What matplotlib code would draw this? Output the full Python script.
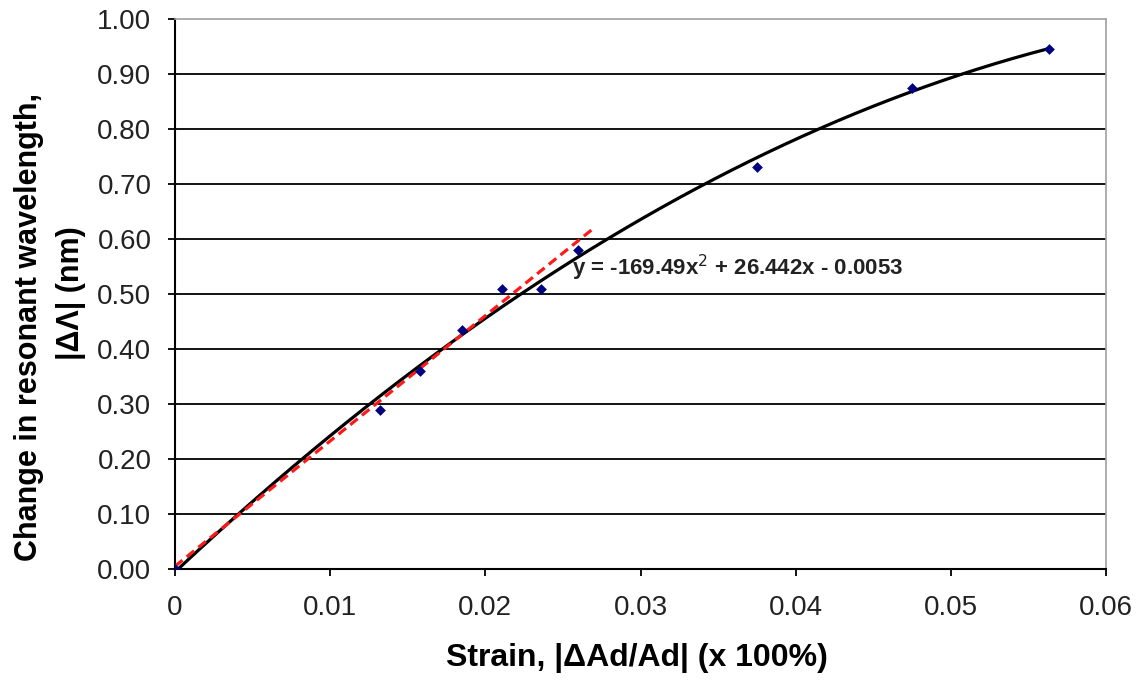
import numpy as np
import matplotlib.pyplot as plt

# measured points
strain = [0.0, 0.0132, 0.0158, 0.0185, 0.0211, 0.0236, 0.0260, 0.0375, 0.0475, 0.0563]
dlam = [0.0, 0.29, 0.36, 0.435, 0.509, 0.509, 0.58, 0.731, 0.875, 0.945]

# quadratic trendline from the chart label
fit_coef = [-169.49, 26.442, -0.0053]
fit_range = [0.0, 0.0563]

# red dashed linear line (end points)
lin_x = [0.0, 0.027]
lin_y = [0.005, 0.62]

xticks = [0, 0.01, 0.02, 0.03, 0.04, 0.05, 0.06]
xticklabels = ['0', '0.01', '0.02', '0.03', '0.04', '0.05', '0.06']
yticks = [0.0, 0.1, 0.2, 0.3, 0.4, 0.5, 0.6, 0.7, 0.8, 0.9, 1.0]
yticklabels = ['%.2f' % v for v in yticks]

plt.rcParams['font.family'] = ['Liberation Sans', 'DejaVu Sans']

fig = plt.figure(figsize=(11.38, 6.81), dpi=100)
ax = fig.add_axes([175/1138, 1 - 569/681, 931/1138, 550/681])

xs = np.linspace(fit_range[0], fit_range[1], 200)
ax.plot(xs, np.polyval(fit_coef, xs), color='black', lw=2.3, zorder=3)
ax.plot(lin_x, lin_y, color='#ff1a1a', lw=2.3, ls=(0, (3, 1.7)), zorder=4)
ax.scatter(strain, dlam, marker='D', s=30, color='#000080', zorder=5, linewidths=0)

ax.set_xlim(0, 0.06)
ax.set_ylim(0, 1.0)
ax.set_xticks(xticks)
ax.set_xticklabels(xticklabels)
ax.set_yticks(yticks)
ax.set_yticklabels(yticklabels)

for v in yticks[1:-1]:
    ax.axhline(v, color='black', lw=1.3, zorder=1)

for side in ['top', 'right']:
    ax.spines[side].set_color('#a0a0a0')
    ax.spines[side].set_linewidth(1.2)
for side in ['left', 'bottom']:
    ax.spines[side].set_color('black')
    ax.spines[side].set_linewidth(1.5)

ax.tick_params(direction='out', length=5, width=1.3, colors='black',
               labelsize=20, labelcolor='#222222')
ax.tick_params(axis='y', pad=12)
ax.tick_params(axis='x', pad=14)

ax.text(0.0256, 0.547, 'y = -169.49x$^{2}$ + 26.442x - 0.0053', fontsize=16,
        fontweight='bold', va='center', ha='left', color='#222222', zorder=6)

fig.text(637/1138, 1 - 658/681, 'Strain, |\u0394Ad/Ad| (x 100%)', fontsize=23,
         fontweight='bold', ha='center', va='center')
fig.text(29/1138, 1 - 327/681, 'Change in resonant wavelength,', fontsize=22,
         fontweight='bold', ha='center', va='center', rotation=90)
fig.text(71/1138, 1 - 293/681, '|\u0394\u039b| (nm)', fontsize=22,
         fontweight='bold', ha='center', va='center', rotation=90)

fig.savefig('out.png', dpi=100)
